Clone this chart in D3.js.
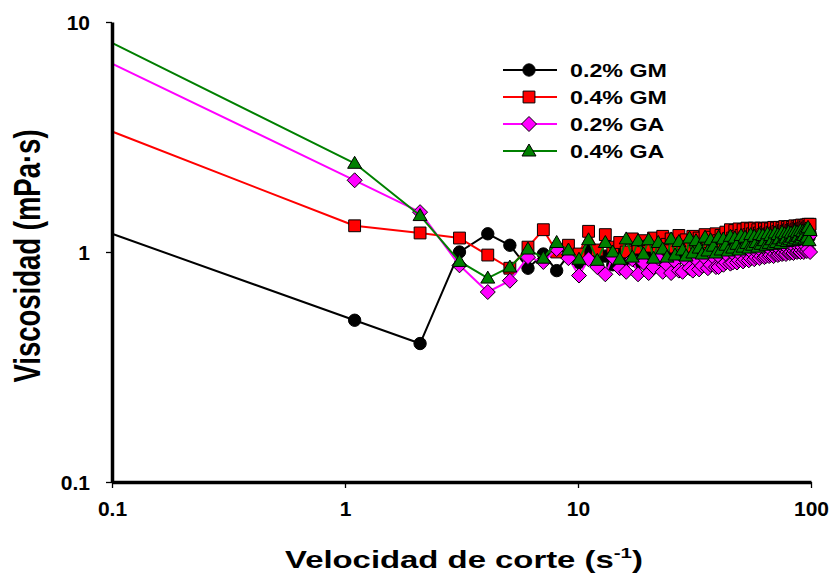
<!DOCTYPE html>
<html>
<head>
<meta charset="utf-8">
<script src="https://cdn.jsdelivr.net/npm/d3@7"></script>
<style>
	html, body { margin: 0; padding: 0; background: #fff; }
	svg { display: block; font-family: "Liberation Sans", Arial, sans-serif; font-weight: bold; }
</style>
</head>
<body>
<div id="chart"></div>
<script>
// shear rate (s-1)
const shearRate = [
	0.1, 1.1, 2.1, 3.1, 4.1, 5.1, 6.1, 7.1, 8.1, 9.1,
	10.1, 11.1, 12.1, 13.1, 14.1, 15.1, 16.1, 17.1, 18.1, 19.1,
	20.1, 21.1, 22.1, 23.1, 24.1, 25.1, 26.1, 27.1, 28.1, 29.1,
	30.1, 31.1, 32.1, 33.1, 34.1, 35.1, 36.1, 37.1, 38.1, 39.1,
	40.1, 41.1, 42.1, 43.1, 44.1, 45.1, 46.1, 47.1, 48.1, 49.1,
	50.1, 51.1, 52.1, 53.1, 54.1, 55.1, 56.1, 57.1, 58.1, 59.1,
	60.1, 61.1, 62.1, 63.1, 64.1, 65.1, 66.1, 67.1, 68.1, 69.1,
	70.1, 71.1, 72.1, 73.1, 74.1, 75.1, 76.1, 77.1, 78.1, 79.1,
	80.1, 81.1, 82.1, 83.1, 84.1, 85.1, 86.1, 87.1, 88.1, 89.1,
	90.1, 91.1, 92.1, 93.1, 94.1, 95.1, 96.1, 97.1, 98.1, 99.1
];

// viscosity (mPa·s)
const gm02 = [
	1.20, 0.505, 0.40, 1.00, 1.20, 1.07, 0.85, 0.98, 0.83, 0.97,
	0.90, 1.02, 0.92, 0.96, 0.88, 1.03, 0.93, 0.97, 0.90, 1.04,
	0.95, 1.00, 0.92, 1.05, 0.96, 1.01, 0.94, 1.06, 0.98, 1.02,
	0.96, 1.07, 1.00, 1.04, 0.98, 1.08, 1.01, 1.05, 0.99, 1.09,
	1.03, 1.06, 1.01, 1.10, 1.04, 1.07, 1.02, 1.10, 1.05, 1.08,
	1.04, 1.11, 1.06, 1.09, 1.05, 1.12, 1.07, 1.10, 1.06, 1.12,
	1.08, 1.11, 1.07, 1.13, 1.09, 1.12, 1.08, 1.14, 1.10, 1.12,
	1.09, 1.14, 1.11, 1.13, 1.10, 1.15, 1.12, 1.14, 1.11, 1.16,
	1.13, 1.15, 1.12, 1.16, 1.14, 1.17, 1.13, 1.16, 1.14, 1.18,
	1.15, 1.17, 1.14, 1.18, 1.16, 1.19, 1.15, 1.18, 1.16, 1.20
];
const gm04 = [
	3.34, 1.30, 1.21, 1.15, 0.97, 0.85, 1.05, 1.25, 1.00, 1.07,
	0.98, 1.23, 1.02, 1.19, 1.05, 1.10, 1.00, 1.14, 1.04, 1.12,
	1.06, 1.15, 1.03, 1.17, 1.08, 1.14, 1.05, 1.18, 1.09, 1.13,
	1.06, 1.17, 1.10, 1.15, 1.07, 1.19, 1.11, 1.16, 1.09, 1.20,
	1.12, 1.18, 1.10, 1.22, 1.14, 1.25, 1.15, 1.24, 1.17, 1.26,
	1.18, 1.25, 1.16, 1.27, 1.19, 1.26, 1.20, 1.27, 1.18, 1.25,
	1.21, 1.27, 1.19, 1.26, 1.22, 1.27, 1.20, 1.26, 1.22, 1.28,
	1.21, 1.27, 1.23, 1.28, 1.22, 1.27, 1.24, 1.29, 1.23, 1.28,
	1.25, 1.29, 1.24, 1.28, 1.26, 1.30, 1.25, 1.29, 1.27, 1.30,
	1.26, 1.31, 1.27, 1.30, 1.28, 1.31, 1.27, 1.32, 1.29, 1.32
];
const ga02 = [
	6.59, 2.05, 1.49, 0.875, 0.67, 0.75, 0.95, 0.905, 1.03, 0.94,
	0.79, 0.93, 0.86, 0.80, 0.95, 0.85, 0.82, 0.93, 0.80, 0.90,
	0.81, 0.86, 0.94, 0.82, 0.88, 0.81, 0.91, 0.83, 0.82, 0.92,
	0.85, 0.83, 0.93, 0.84, 0.87, 0.94, 0.85, 0.88, 0.95, 0.86,
	0.86, 0.94, 0.88, 0.90, 0.96, 0.89, 0.90, 0.97, 0.90, 0.92,
	0.97, 0.91, 0.93, 0.98, 0.92, 0.94, 0.99, 0.93, 0.95, 0.99,
	0.94, 0.96, 1.00, 0.95, 0.96, 1.01, 0.96, 0.97, 1.01, 0.96,
	0.98, 1.02, 0.97, 0.98, 1.02, 0.98, 0.99, 1.03, 0.98, 1.00,
	1.03, 0.99, 1.00, 1.04, 0.99, 1.01, 1.04, 1.00, 1.01, 1.05,
	1.00, 1.02, 1.05, 1.00, 1.02, 1.06, 1.01, 1.03, 1.17, 1.00
];
const ga04 = [
	8.11, 2.43, 1.44, 0.91, 0.77, 0.86, 1.03, 0.94, 1.10, 1.02,
	0.93, 1.13, 0.92, 1.10, 1.00, 0.93, 1.14, 0.95, 1.12, 0.98,
	1.13, 0.94, 1.10, 1.03, 0.95, 1.14, 0.97, 1.11, 1.02, 0.96,
	1.15, 0.99, 1.12, 1.04, 0.98, 1.16, 1.01, 1.13, 1.06, 0.99,
	1.16, 1.02, 1.14, 1.07, 1.01, 1.17, 1.04, 1.15, 1.08, 1.02,
	1.18, 1.05, 1.16, 1.09, 1.04, 1.19, 1.07, 1.17, 1.10, 1.05,
	1.19, 1.08, 1.18, 1.12, 1.07, 1.20, 1.09, 1.18, 1.13, 1.08,
	1.21, 1.10, 1.19, 1.14, 1.09, 1.22, 1.12, 1.20, 1.15, 1.11,
	1.22, 1.13, 1.21, 1.16, 1.12, 1.23, 1.14, 1.22, 1.17, 1.13,
	1.24, 1.15, 1.23, 1.18, 1.14, 1.26, 1.16, 1.28, 1.12, 1.24
];

const seriesNames = ['0.2% GM', '0.4% GM', '0.2% GA', '0.4% GA'];
const seriesValues = [gm02, gm04, ga02, ga04];
const xTicks = [0.1, 1, 10, 100];
const yTicks = [0.1, 1, 10];

const styles = [
	{ line: '#000000', fill: '#000000', shape: 'circle' },
	{ line: '#ff0000', fill: '#ff0000', shape: 'square' },
	{ line: '#ff00ff', fill: '#ff00ff', shape: 'diamond' },
	{ line: '#008000', fill: '#008000', shape: 'triangle' }
];

const W = 834, H = 573;
const m = { top: 22, right: 23, bottom: 91, left: 112 };
const width = W - m.left - m.right,
	height = H - m.top - m.bottom;

const svg = d3.select('#chart').append('svg')
	.attr('width', W)
	.attr('height', H);

const g = svg.append('g')
	.attr('transform', 'translate(' + m.left + ',' + m.top + ')');

const x = d3.scaleLog().domain([0.1, 100]).range([0, width]);
const y = d3.scaleLog().domain([0.1, 10]).range([height, 0]);

// marker paths
function markerPath(shape) {
	if (shape === 'circle') return d3.symbol(d3.symbolCircle, 120)();
	if (shape === 'square') return d3.symbol(d3.symbolSquare, 140)();
	if (shape === 'triangle') return 'M0,-7L7,5L-7,5Z';
	return 'M0,-7.5L7.5,0L0,7.5L-7.5,0Z';
}

// series
const line = d3.line()
	.x(d => x(d[0]))
	.y(d => y(d[1]));

seriesValues.forEach((vals, i) => {
	const data = shearRate.map((s, j) => [s, vals[j]]);
	const st = styles[i];
	const sg = g.append('g').attr('class', 'series series_' + (i + 1));
	sg.append('path')
		.datum(data)
		.attr('fill', 'none')
		.attr('stroke', st.line)
		.attr('stroke-width', 2)
		.attr('stroke-linejoin', 'round')
		.attr('d', line);
	// no marker on the axis itself (first reading sits on the y axis)
	sg.selectAll('path.mk')
		.data(data.filter(d => d[0] > x.domain()[0]))
		.enter()
		.append('path')
		.attr('class', 'mk')
		.attr('d', markerPath(st.shape))
		.attr('transform', d => 'translate(' + x(d[0]) + ',' + y(d[1]) + ')')
		.attr('fill', st.fill)
		.attr('stroke', '#000')
		.attr('stroke-width', 1);
});

// axes
const xAxis = d3.axisBottom(x).tickValues(xTicks).tickFormat(d => d).tickSizeInner(6).tickSizeOuter(0).tickPadding(13);
const yAxis = d3.axisLeft(y).tickValues(yTicks).tickFormat(d => d).tickSizeInner(6).tickSizeOuter(0).tickPadding(16);

const gx = g.append('g')
	.attr('transform', 'translate(0,' + height + ')')
	.call(xAxis);
const gy = g.append('g').call(yAxis);

[gx, gy].forEach(ax => {
	ax.select('.domain').attr('stroke', '#000').attr('stroke-width', 3.5);
	ax.selectAll('.tick line').attr('stroke', '#000').attr('stroke-width', 1.3);
	ax.selectAll('.tick text')
		.attr('fill', '#000')
		.style('font-size', '21px')
		.style('font-weight', 'bold')
		.style('font-family', '"Liberation Sans", Arial, sans-serif');
});
gy.selectAll('.tick text').attr('dy', '0.35em');

// axis titles
const xt = svg.append('g')
	.attr('transform', 'translate(464,568) scale(1.37,1)')
	.append('text')
	.attr('text-anchor', 'middle')
	.style('font-size', '24px');
xt.append('tspan').text('Velocidad de corte (s');
xt.append('tspan').attr('dy', -10).style('font-size', '15px').text('-1');
xt.append('tspan').attr('dy', 10).text(')');

svg.append('g')
	.attr('transform', 'translate(40,256) rotate(-90) scale(1,1.36)')
	.append('text')
	.attr('text-anchor', 'middle')
	.style('font-size', '27.5px')
	.text('Viscosidad (mPa·s)');

// legend
const legend = svg.append('g').attr('class', 'legend');
seriesNames.forEach((name, i) => {
	const ly = 70 + i * 27;
	const st = styles[i];
	legend.append('line')
		.attr('x1', 503).attr('x2', 557)
		.attr('y1', ly).attr('y2', ly)
		.attr('stroke', st.line)
		.attr('stroke-width', 2);
	legend.append('path')
		.attr('d', markerPath(st.shape))
		.attr('transform', 'translate(529,' + ly + ')')
		.attr('fill', st.fill)
		.attr('stroke', '#000')
		.attr('stroke-width', 1);
	legend.append('g')
		.attr('transform', 'translate(570,' + (ly + 7) + ') scale(1.25,1)')
		.append('text')
		.style('font-size', '18.6px')
		.text(name);
});
</script>
</body>
</html>
